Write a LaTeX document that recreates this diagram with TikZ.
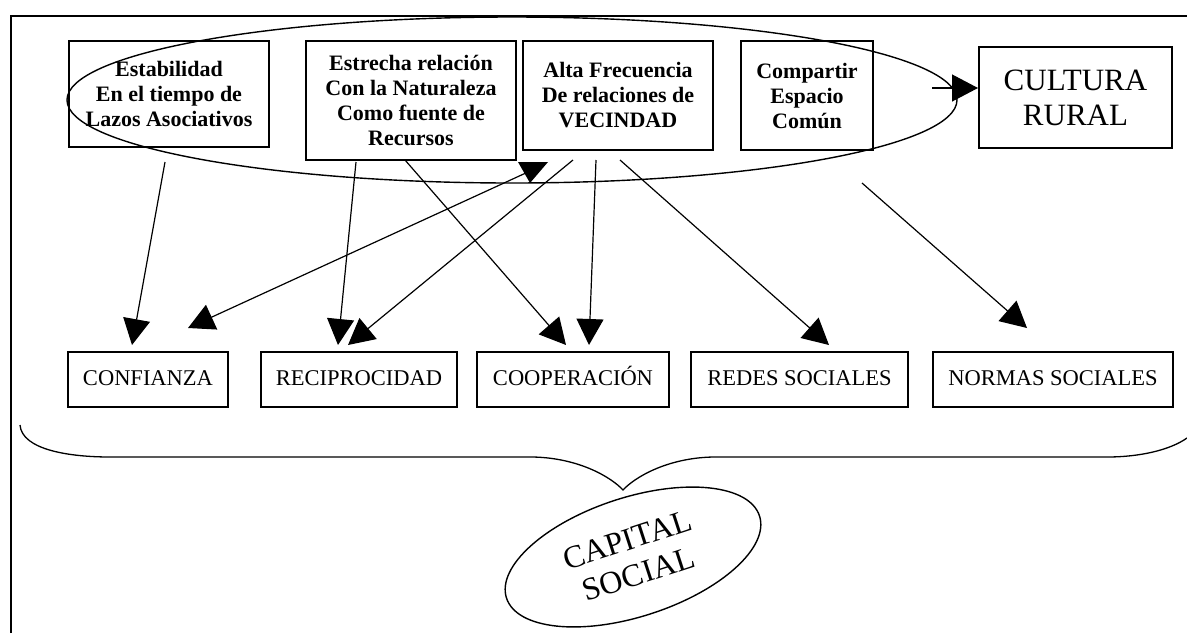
\documentclass[tikz,border=0pt]{standalone}
\usepackage{fontspec}
\setmainfont{Liberation Serif}
\usetikzlibrary{arrows.meta,shapes.geometric}
\begin{document}
\begin{tikzpicture}[x=1pt,y=-1pt,
  factor/.style={draw,line width=1.4pt,align=center,inner sep=0pt,font=\fontsize{22}{25}\selectfont\bfseries},
  elemento/.style={draw,line width=1.4pt,inner sep=0pt,minimum height=55pt,text height=15.5pt,text depth=4.5pt,font=\fontsize{22.5}{26}\selectfont},
  flecha/.style={line width=1.2pt,-{Triangle[length=26pt,width=27pt]}}]
\useasboundingbox (0,0) rectangle (1187,633);
\draw[line width=1.5pt] (11,633) -- (11,16) -- (1187,16);
% factores de arriba
\node[factor,minimum width=200pt,minimum height=106pt] (estab) at (169,94) {Estabilidad\\En el tiempo de\\Lazos Asociativos};
\node[factor,minimum width=210pt,minimum height=119pt] (natur) at (411,100.5) {Estrecha relación\\Con la Naturaleza\\Como fuente de\\Recursos};
\node[factor,minimum width=190pt,minimum height=109pt] (vecin) at (618,95.5) {Alta Frecuencia\\De relaciones de\\VECINDAD};
\node[factor,minimum width=132pt,minimum height=109pt] (espac) at (807,95.5) {Compartir\\Espacio\\Común};
\node[draw,line width=1.4pt,align=center,inner sep=0pt,minimum width=193pt,minimum height=101pt,font=\fontsize{31}{35}\selectfont] (cultura) at (1075.5,97.5) {CULTURA\\RURAL};
\draw[line width=1.4pt] (512,100) ellipse [x radius=445pt, y radius=83pt];
% elementos de abajo
\node[elemento,minimum width=160pt] (confianza) at (148,379.5) {CONFIANZA};
\node[elemento,minimum width=196pt] (recipro) at (359,379.5) {RECIPROCIDAD};
\node[elemento,minimum width=192pt] (coopera) at (573,379.5) {COOPERACIÓN};
\node[elemento,minimum width=217pt] (redes) at (799.5,379.5) {REDES SOCIALES};
\node[elemento,minimum width=240pt] (normas) at (1053,379.5) {NORMAS SOCIALES};
% extremos de las flechas
\coordinate (estab-a) at (165,162);
\coordinate (natur-a) at (356,162);
\coordinate (natur-b) at (405,160);
\coordinate (vecin-a) at (528,172);
\coordinate (vecin-b) at (573,160);
\coordinate (vecin-c) at (596,160);
\coordinate (vecin-d) at (620,160);
\coordinate (espac-a) at (862,183);
\coordinate (espac-b) at (932,88);
\coordinate (confianza-a) at (132,345);
\coordinate (confianza-b) at (188,328);
\coordinate (recipro-a) at (338,345);
\coordinate (recipro-b) at (348,345);
\coordinate (coopera-a) at (566,345);
\coordinate (coopera-b) at (589,345);
\coordinate (redes-a) at (829,345);
\coordinate (normas-a) at (1027,328);
\coordinate (cultura-a) at (978,88);
\draw[flecha] (estab-a) -- (confianza-a);
\draw[flecha] (vecin-a) -- (confianza-b);
\fill (518,162) -- (548,162) -- (530,183) -- cycle;
\draw[flecha] (natur-a) -- (recipro-a);
\draw[flecha] (vecin-b) -- (recipro-b);
\draw[flecha] (natur-b) -- (coopera-a);
\draw[flecha] (vecin-c) -- (coopera-b);
\draw[flecha] (vecin-d) -- (redes-a);
\draw[flecha] (espac-a) -- (normas-a);
\draw[flecha] (espac-b) -- (cultura-a);
% llave y capital social
\draw[line width=1.3pt] (20,425) .. controls (22,450) and (70,457) .. (110,457) -- (533,457)
  .. controls (580,458) and (612,478) .. (623,490) .. controls (634,478) and (666,458) .. (713,457)
  -- (1107,457) .. controls (1140,457) and (1170,450) .. (1187,438);
\node[draw,ellipse,line width=1.4pt,minimum width=266pt,minimum height=119pt,inner sep=0pt,rotate=18,align=center,font=\fontsize{32}{36}\selectfont] (capital) at (633,557) {CAPITAL\\SOCIAL};
\end{tikzpicture}
\end{document}
